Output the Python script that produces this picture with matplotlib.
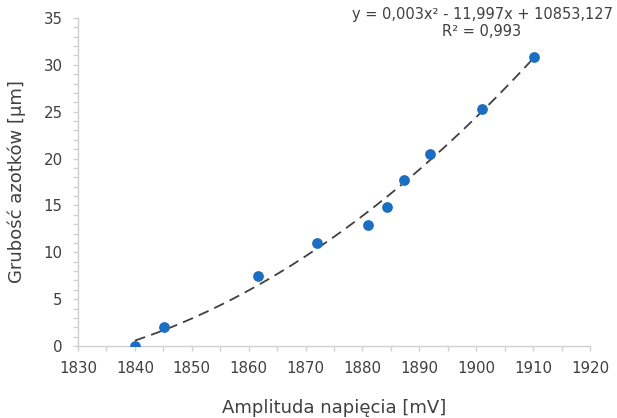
import numpy as np
import matplotlib
matplotlib.use("Agg")
import matplotlib.pyplot as plt
from matplotlib.ticker import MultipleLocator

amplitude_mV = [1840.0, 1845.2, 1861.7, 1872.0, 1880.9, 1884.3, 1887.3, 1891.9, 1901.0, 1910.2]
thickness_um = [0.0, 2.0, 7.5, 11.0, 12.9, 14.8, 17.7, 20.5, 25.3, 30.8]
x_label = "Amplituda napięcia [mV]"
y_label = "Grubość azotków [µm]"
equation_text = "y = 0,003x² - 11,997x + 10853,127\nR² = 0,993"

plt.rcParams['font.family'] = ['DejaVu Sans']

fig = plt.figure(figsize=(6.17, 4.18), dpi=100)
ax = fig.add_axes([78/617, 1 - 346/418, 512/617, 328/418])

# quadratic trendline computed from data
coef = np.polyfit(amplitude_mV, thickness_um, 2)
xs = np.linspace(min(amplitude_mV), max(amplitude_mV), 200)
ax.plot(xs, np.polyval(coef, xs), color="#404040", lw=1.3, ls=(0, (6, 3.5)), zorder=2)

ax.scatter(amplitude_mV, thickness_um, s=60, color="#1b6ec2", zorder=3, linewidths=0)

ax.set_xlim(1830, 1920)
ax.set_ylim(0, 35)
ax.xaxis.set_major_locator(MultipleLocator(10))
ax.xaxis.set_minor_locator(MultipleLocator(5))
ax.yaxis.set_major_locator(MultipleLocator(5))
ax.yaxis.set_minor_locator(MultipleLocator(1))

for s in ["top", "right"]:
    ax.spines[s].set_visible(False)
for s in ["left", "bottom"]:
    ax.spines[s].set_color("#d0d0d0")
    ax.spines[s].set_linewidth(1.0)

ax.tick_params(which="both", direction="out", color="#d0d0d0", width=1.0, length=3.5,
               labelsize=10.8, labelcolor="#404040", pad=7.5)

ax.set_xlabel(x_label, fontsize=13, color="#404040")
ax.set_ylabel(y_label, fontsize=13, color="#404040")
ax.xaxis.set_label_coords(0.5, -0.163)
ax.yaxis.set_label_coords(-0.102, 0.5)

fig.text(482/617, 1 - 7/418, equation_text, ha="center", va="top", fontsize=10.5,
         color="#404040", multialignment="center", linespacing=1.15)

fig.savefig("out.png", dpi=100)
